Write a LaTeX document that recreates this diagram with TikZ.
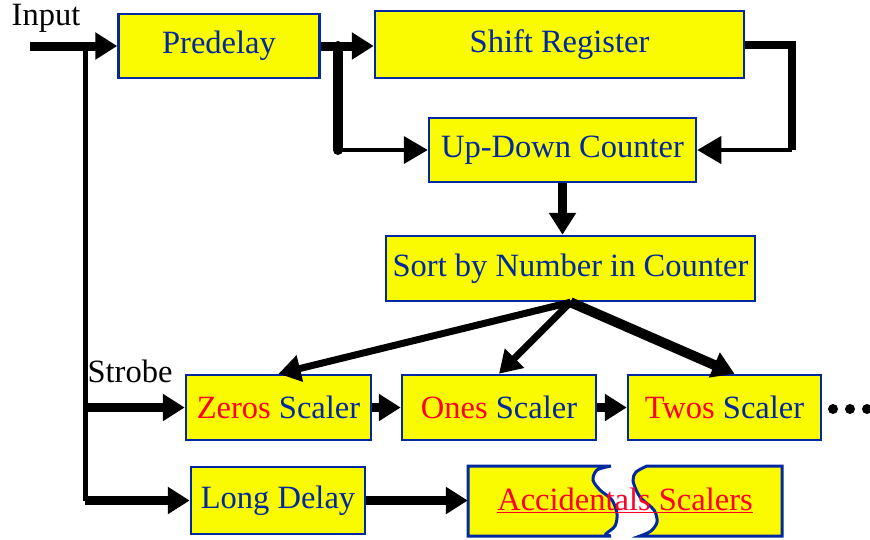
\documentclass[tikz,border=0pt]{standalone}
\usepackage{fontspec}
\setmainfont{LiberationSerif-Regular.ttf}
\usetikzlibrary{arrows.meta}

\definecolor{boxyellow}{RGB}{250,250,0}
\definecolor{boxblue}{RGB}{0,40,160}
\definecolor{txtred}{RGB}{255,0,40}

\tikzset{
  bigfont/.style={font=\fontsize{32.5}{36}\selectfont},
  blk/.style={draw=boxblue, fill=boxyellow, line width=2.5pt, inner sep=0pt, text=boxblue, bigfont},
  fat/.style={line width=9pt, -{Triangle[length=22pt,width=26pt]}},
  slim/.style={line width=4pt, -{Triangle[length=24pt,width=27pt]}},
  piece/.style={draw=boxblue, fill=boxyellow, line width=3pt},
}

\begin{document}
\begin{tikzpicture}[x=1pt,y=-1pt]
\useasboundingbox (0,0) rectangle (870,539);

% blocks
\node[blk, minimum width=201, minimum height=64] (pd) at (219,46) {Predelay};
\node[blk, minimum width=369, minimum height=67] (sr) at (559.5,44.5) {Shift Register};
\node[blk, minimum width=267, minimum height=64] (udc) at (562.5,150) {Up-Down Counter};
\node[blk, minimum width=369, minimum height=65] (sort) at (570.5,268.5) {Sort by Number in Counter};
\node[blk, minimum width=185, minimum height=65] (zs) at (278.5,407.5) {\textcolor{txtred}{Zeros} Scaler};
\node[blk, minimum width=194, minimum height=65] (os) at (499,407.5) {\textcolor{txtred}{Ones} Scaler};
\node[blk, minimum width=193, minimum height=65] (ts) at (724.5,407.5) {\textcolor{txtred}{Twos} Scaler};
\node[blk, minimum width=174, minimum height=67] (ld) at (278,500.5) {Long Delay};

% broken box
\filldraw[piece] (611,536) -- (468,536) -- (468,466) -- (611,466)
  -- plot[smooth] coordinates {(611,466) (597,470) (593,480) (600,490) (612,500) (617,514) (615,526) (606,534) (611,536)} -- cycle;
\filldraw[piece] (647,466) -- (782,466) -- (782,536) -- (640,536)
  -- plot[smooth] coordinates {(640,536) (651,531) (657,522) (654,510) (640,497) (633,481) (636,472) (647,466)} -- cycle;
\node[bigfont, text=txtred, minimum width=314, minimum height=69, inner sep=0pt] (acc) at (625,500.5) {\underline{Accidentals Scalers}};

% labels
\node[bigfont] (inlbl) at (46,18) {Input};
\node[bigfont] (strlbl) at (130,371) {Strobe};

\coordinate (in) at (30,46);
\coordinate (top) at (85,42);
\coordinate (br) at (338,46);
\coordinate (fb) at (792,46);

% input and strobe
\draw[fat] (in) -- (pd.west);
\draw[line width=5pt] (top) -- (top |- ld.west);
\draw[fat] (top |- zs.west) -- (zs.west);
\draw[fat] (top |- ld.west) -- (ld.west);

% predelay, shift register, counter
\draw[fat] (pd.east) -- (pd.east -| sr.west);
\draw[line width=10pt, line cap=round] (br) -- (br |- udc.west);
\draw[slim] (br |- udc.west) -- (udc.west);
\draw[line width=8pt] (sr.east) -| (fb |- udc.east);
\draw[slim] (fb |- udc.east) -- (udc.east);
\draw[fat] (udc.south) -- (udc.south |- sort.north);

% sorting
\draw[fat, line width=7pt] (sort.south) -- (zs.north);
\draw[fat, line width=7pt] (sort.south) -- (os.north);
\draw[fat, line width=10pt] (sort.south) -- ([xshift=10pt]ts.north);
\draw[fat] (zs.east) -- (os.west);
\draw[fat] (os.east) -- (ts.west);
\draw[fat] (ld.east) -- (acc.west);

\foreach \x in {833,850,867}
  {\fill (\x,409) circle (5pt);}
\end{tikzpicture}
\end{document}
